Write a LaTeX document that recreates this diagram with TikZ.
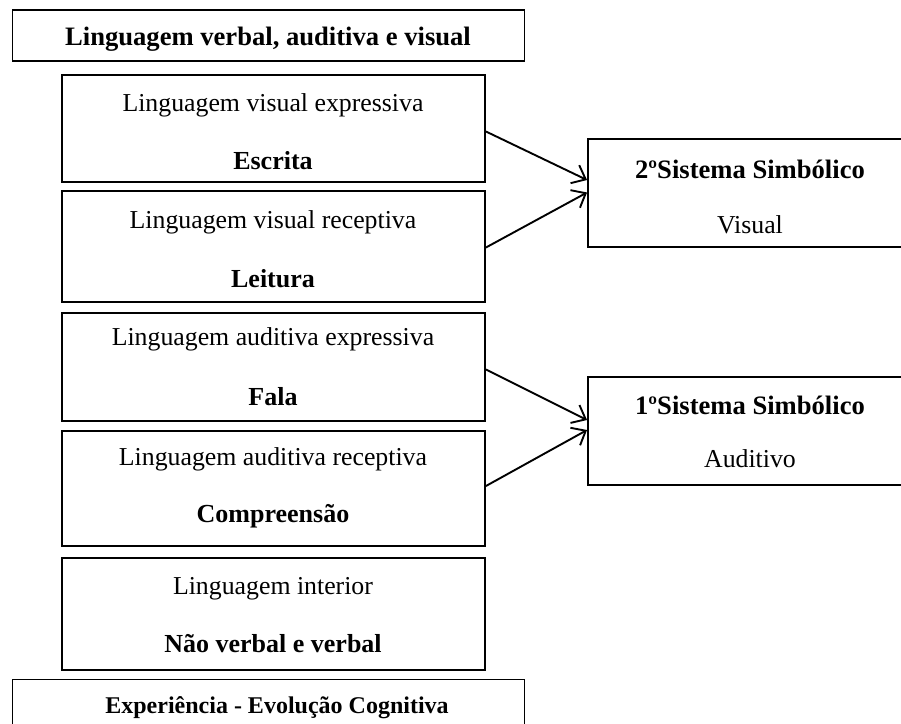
\documentclass[tikz,border=0pt]{standalone}
\usepackage{fontspec}
\setmainfont{Liberation Serif}
\usetikzlibrary{arrows.meta,calc}
\begin{document}
\begin{tikzpicture}[x=0.5pt,y=-0.5pt,
  box/.style={draw, line width=0.95pt, inner sep=0pt, rectangle},
  lbl/.style={inner sep=0pt, anchor=base, font=\fontsize{12.9}{15}\selectfont},
  blbl/.style={inner sep=0pt, anchor=base, font=\fontsize{13}{15}\selectfont\bfseries},
  conn/.style={line width=0.95pt, -{Straight Barb[length=6pt,width=10pt,line width=0.95pt]}}]
\useasboundingbox (0,0) rectangle (901,724);
% top and bottom boxes
\node[box, minimum width=256pt, minimum height=25.5pt] (top) at (268.5,35.5) {};
\node[blbl, font=\fontsize{13.3}{15}\selectfont\bfseries] (topt) at (268,45) {Linguagem verbal, auditiva e visual};
\node[box, minimum width=256pt, minimum height=27pt] (bot) at (268.5,706.5) {};
\node[blbl, font=\fontsize{12}{15}\selectfont\bfseries] (bott) at (277,713) {Experiência - Evolução Cognitiva};
% left boxes
\node[box, minimum width=211.5pt, minimum height=53.5pt] (b1) at (273.5,128.5) {};
\node[lbl] (b1a) at (273,111) {Linguagem visual expressiva};
\node[blbl] (b1b) at (273,169) {Escrita};
\node[box, minimum width=211.5pt, minimum height=55.5pt] (b2) at (273.5,246.5) {};
\node[lbl] (b2a) at (273,228) {Linguagem visual receptiva};
\node[blbl] (b2b) at (273,287) {Leitura};
\node[box, minimum width=211.5pt, minimum height=54pt] (b3) at (273.5,367) {};
\node[lbl] (b3a) at (273,345) {Linguagem auditiva expressiva};
\node[blbl] (b3b) at (273,405) {Fala};
\node[box, minimum width=211.5pt, minimum height=57.5pt] (b4) at (273.5,488.5) {};
\node[lbl] (b4a) at (273,465) {Linguagem auditiva receptiva};
\node[blbl] (b4b) at (273,522) {Compreensão};
\node[box, minimum width=211.5pt, minimum height=56pt] (b5) at (273.5,614) {};
\node[lbl] (b5a) at (273,594) {Linguagem interior};
\node[blbl] (b5b) at (273,652) {Não verbal e verbal};
% right boxes
\node[box, minimum width=163pt, minimum height=54pt] (s2) at (751,193) {};
\node[blbl, font=\fontsize{13.3}{15}\selectfont\bfseries] (s2a) at (750,178) {2ºSistema Simbólico};
\node[lbl] (s2b) at (750,233) {Visual};
\node[box, minimum width=163pt, minimum height=54pt] (s1) at (751,431) {};
\node[blbl, font=\fontsize{13.3}{15}\selectfont\bfseries] (s1a) at (750,414) {1ºSistema Simbólico};
\node[lbl] (s1b) at (750,467.5) {Auditivo};
% connectors
\draw[conn] ($(b1.east)+(0,3)$) -- ($(s2.west)+(0,-13)$);
\draw[conn] ($(b2.east)+(0,1)$) -- ($(s2.west)+(0,-0.5)$);
\draw[conn] ($(b3.east)+(0,2.5)$) -- ($(s1.west)+(0,-11)$);
\draw[conn] ($(b4.east)+(0,-2.5)$) -- ($(s1.west)+(0,-1)$);
\end{tikzpicture}
\end{document}
